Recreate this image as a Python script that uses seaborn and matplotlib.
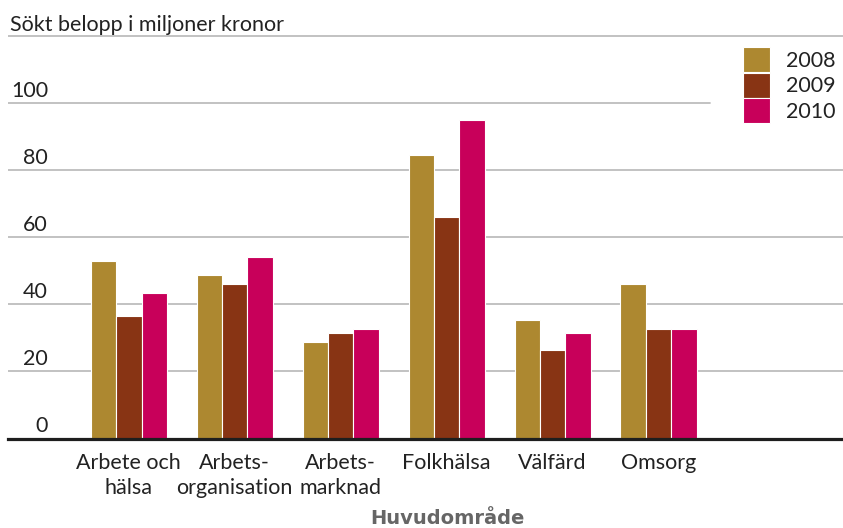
import matplotlib
matplotlib.use("Agg")
import matplotlib.pyplot as plt
import matplotlib.transforms as mtransforms
import seaborn as sns
import pandas as pd

categories = ["Arbete och\nhälsa", "Arbets-\norganisation", "Arbets-\nmarknad",
              "Folkhälsa", "Välfärd", "Omsorg"]
years = ["2008", "2009", "2010"]
values_2008 = [53.0, 48.8, 28.8, 84.6, 35.4, 46.1]
values_2009 = [36.6, 46.1, 31.5, 66.1, 26.4, 32.7]
values_2010 = [43.4, 54.2, 32.7, 95.1, 31.5, 32.7]
yticks = [0, 20, 40, 60, 80, 100, 120]
ytick_labels = ["0", "20", "40", "60", "80", "100", ""]
colors = ["#AD8830", "#883414", "#C8005A"]

rows = []
for yr, vals in zip(years, [values_2008, values_2009, values_2010]):
    for c, v in zip(categories, vals):
        rows.append({"Huvudområde": c, "År": yr, "Belopp": v})
df = pd.DataFrame(rows)

sns.set_theme(style="white")
FONT = "Lato"
plt.rcParams["font.family"] = [FONT, "DejaVu Sans"]
plt.rcParams["text.color"] = "#222222"

W, H = 843, 528
fig = plt.figure(figsize=(W / 100, H / 100), dpi=100)
left_px, right_px, top_px, bottom_px = 8, 843, 34.8, 438.5
ax = fig.add_axes([left_px / W, 1 - bottom_px / H,
                   (right_px - left_px) / W, (bottom_px - top_px) / H])

sns.barplot(data=df, x="Huvudområde", y="Belopp", hue="År", order=categories,
            hue_order=years, palette=colors, width=0.72, ax=ax,
            edgecolor="white", linewidth=0.8, saturation=1, legend=True)

ax.set_xlim(-1.14, 6.74)
ax.set_ylim(0, 120.5)

# gridlines
for v in yticks[1:]:
    xmax = (710 - left_px) / (right_px - left_px) if v == 100 else 1.0
    ax.axhline(v, xmin=0, xmax=xmax, color="#BDBDBD", lw=1.3, zorder=0)

for s in ["top", "right", "left"]:
    ax.spines[s].set_visible(False)
ax.spines["bottom"].set_color("#1E1E1E")
ax.spines["bottom"].set_linewidth(2.3)
ax.spines["bottom"].set_zorder(5)

fs = 15.5
ax.set_yticks(yticks)
ax.set_yticklabels(ytick_labels, fontsize=fs, color="#222222")
ax.tick_params(axis="y", length=0, pad=-28.8)
off = mtransforms.ScaledTranslation(0, 1.5 / 72, fig.dpi_scale_trans)
for lab in ax.get_yticklabels():
    lab.set_verticalalignment("bottom")
    lab.set_transform(lab.get_transform() + off)

ax.tick_params(axis="x", length=0, pad=10.5, labelsize=fs, colors="#222222")
for lab in ax.get_xticklabels():
    lab.set_multialignment("center")
    lab.set_linespacing(1.32)

ax.set_ylabel("")
ax.set_xlabel("Huvudområde", fontsize=14, fontweight="bold", color="#666666",
              family=["DejaVu Sans"])
ax.xaxis.set_label_coords((447.5 - left_px) / (right_px - left_px),
                          -(519 - bottom_px) / (bottom_px - top_px))
ax.xaxis.label.set_verticalalignment("center")

fig.text(10 / W, 1 - 31 / H, "Sökt belopp i miljoner kronor", fontsize=fs,
         color="#222222", va="baseline", ha="left")

leg = ax.legend(loc="upper left", bbox_to_anchor=(743 / W, 1 - 47 / H),
                bbox_transform=fig.transFigure, frameon=False, fontsize=fs,
                handlelength=27 / 21.5, handleheight=1.42, labelspacing=0.02,
                handletextpad=16 / 21.5, borderpad=0, borderaxespad=0, title=None)
for t in leg.get_texts():
    t.set_color("#222222")
for h in leg.legend_handles:
    h.set_edgecolor("white")
    h.set_linewidth(0.8)

fig.savefig("out.png", dpi=100)
